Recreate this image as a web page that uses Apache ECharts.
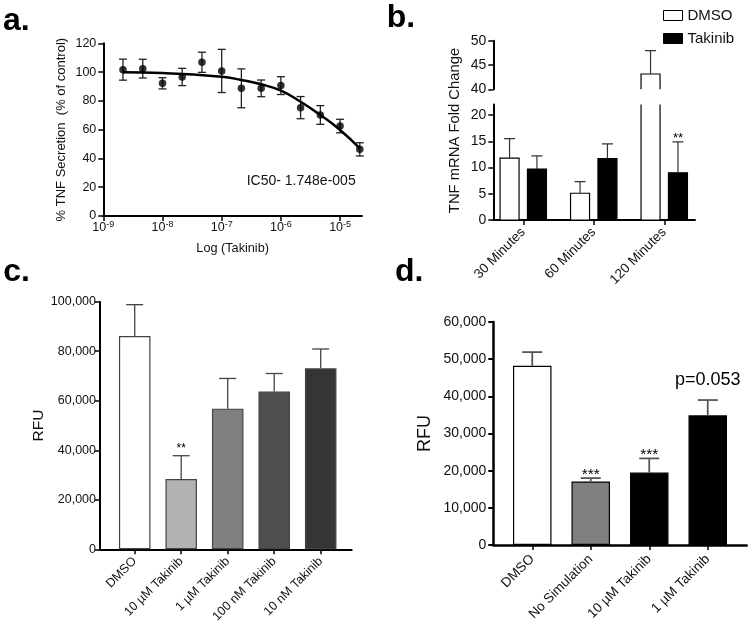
<!DOCTYPE html>
<html><head><meta charset="utf-8">
<script src="https://cdn.jsdelivr.net/npm/echarts@6/dist/echarts.min.js"></script>
<style>html,body{margin:0;padding:0;background:#fff}#c{width:750px;height:629px}</style>
</head><body><div id="c"></div>
<script>
// ---------- Panel a data ----------
const aConc = [2.15e-9, 4.64e-9, 1e-8, 2.15e-8, 4.64e-8, 1e-7, 2.15e-7, 4.64e-7, 1e-6, 2.15e-6, 4.64e-6, 1e-5, 2.15e-5];
const aMean = [101.7, 102.4, 92.2, 96.6, 106.8, 100.8, 88.7, 88.7, 90.6, 75.3, 70.2, 62.5, 46.3];
const aErr  = [7.3, 6.5, 3.9, 6.0, 7.0, 15.0, 13.5, 5.8, 6.2, 7.7, 6.5, 4.7, 4.6];
const aFitConc = [2.15e-9, 1e-8, 1e-7, 2.15e-7, 4.64e-7, 1e-6, 2.15e-6, 4.64e-6, 1e-5, 2.15e-5];
const aFitVal  = [99.8, 99.3, 96.8, 94.5, 91.5, 87.1, 79.4, 70.2, 59.8, 47.0];
const aXTickExp = [-9, -8, -7, -6, -5];
const aNote = 'IC50- 1.748e-005';

// ---------- Panel b data ----------
const bCats = ['30 Minutes', '60 Minutes', '120 Minutes'];
const bDmso = [11.8, 5.1, 43.15];
const bDmsoErr = [3.7, 2.2, 4.8];
const bTak = [9.7, 11.7, 9.0];
const bTakErr = [2.5, 2.8, 5.9];
const bTakSig = ['', '', '**'];

// ---------- Panel c data ----------
const cCats = ['DMSO', '10 µM Takinib', '1 µM Takinib', '100 nM Takinib', '10 nM Takinib'];
const cVals = [86100, 28400, 56800, 63700, 73100];
const cErr  = [12700, 9400, 12200, 7300, 7800];
const cSig  = ['', '**', '', '', ''];

// ---------- Panel d data ----------
const dCats = ['DMSO', 'No Simulation', '10 µM Takinib', '1 µM Takinib'];
const dVals = [48200, 17100, 19500, 34900];
const dErr  = [3700, 900, 3800, 4100];
const dSig  = ['', '***', '***', 'p=0.053'];

// ---------- styles ----------
const FONT = '"Liberation Sans", Arial, Helvetica, sans-serif';
const cFill = ['#ffffff', '#b2b2b2', '#808080', '#4e4e4e', '#353535'];
const dFill = ['#ffffff', '#808080', '#000000', '#000000'];
const B_BW = 19, B_OFF = 13.7;

const comma = v => String(v).replace(/\B(?=(\d{3})+(?!\d))/g, ',');

function errRender(o) {
  return function (params, api) {
    const x = api.value(0), v = api.value(1), e = api.value(2);
    const p0 = api.coord([x, v]);
    const pt = api.coord([x, v + e]);
    const pb = o.both ? api.coord([x, v - e]) : p0;
    const cx = p0[0] + (o.offset || 0);
    const h = o.capW / 2;
    const st = { stroke: o.color, lineWidth: o.lw };
    const ch = [
      { type: 'line', shape: { x1: cx, y1: pb[1], x2: cx, y2: pt[1] }, style: st },
      { type: 'line', shape: { x1: cx - h, y1: pt[1], x2: cx + h, y2: pt[1] }, style: st }
    ];
    if (o.both) ch.push({ type: 'line', shape: { x1: cx - h, y1: pb[1], x2: cx + h, y2: pb[1] }, style: st });
    const s = o.sig ? o.sig[params.dataIndex] : '';
    if (s) {
      const big = s.length > 3;
      ch.push({ type: 'text', x: cx, y: pt[1] - (big ? o.bigOff : o.sigOff),
        style: { text: s, fill: '#000', fontFamily: FONT, fontSize: big ? o.bigFs : o.sigFs,
          fontWeight: 'normal', align: 'center', verticalAlign: 'middle' } });
    }
    return { type: 'group', children: ch };
  };
}
function barRender(offset, fill, stroke) {
  return function (params, api) {
    const x = api.value(0), v = api.value(1);
    const p0 = api.coord([x, 0]), p1 = api.coord([x, v]);
    const cx = p1[0] + offset;
    return { type: 'rect', shape: { x: cx - B_BW / 2, y: p1[1], width: B_BW, height: p0[1] - p1[1] },
      style: { fill: fill, stroke: stroke, lineWidth: 1.2 } };
  };
}

const axLine = (lw) => ({ show: true, onZero: false, lineStyle: { color: '#000', width: lw } });
const tick = (lw) => ({ show: true, length: 5, lineStyle: { color: '#000', width: lw } });
const noSplit = { show: false };

const grid = [
  { left: 103.3, top: 43.3, width: 258.7, height: 172.7 },   // 0 a
  { left: 493.3, top: 40.7, width: 201.7, height: 48.6 },    // 1 b top frame
  { left: 488, top: 40.7, width: 211.5, height: 48.6 },      // 2 b top bars
  { left: 493.3, top: 104.5, width: 201.7, height: 115.5 },  // 3 b bottom frame
  { left: 488, top: 104.5, width: 211.5, height: 115.5 },    // 4 b bottom bars
  { left: 100, top: 301.7, width: 251.7, height: 247.6 },    // 5 c frame
  { left: 111.45, top: 301.7, width: 232.5, height: 247.6 }, // 6 c bars
  { left: 493.3, top: 322, width: 253.4, height: 223 },      // 7 d frame
  { left: 503, top: 322, width: 234, height: 223 }           // 8 d bars
];

const frameX = (g, lw, show) => ({ type: 'value', gridIndex: g, min: 0, max: 1, show: show,
  axisLine: axLine(lw), axisTick: { show: false }, axisLabel: { show: false }, splitLine: noSplit });
const barX = (g, cats, fs, margin, show) => ({ type: 'category', gridIndex: g, data: cats, show: show,
  axisLine: { show: false }, axisTick: Object.assign(tick(1.5), { alignWithLabel: true }),
  axisLabel: { rotate: 45, interval: 0, fontSize: fs, color: '#111', fontFamily: FONT, margin: margin },
  splitLine: noSplit });
const hidY = (g, min, max) => ({ type: 'value', gridIndex: g, min: min, max: max, show: false, splitLine: noSplit });

const xAxis = [
  { type: 'value', gridIndex: 0, min: -9, max: -4.63,
    axisLine: axLine(2), splitLine: noSplit,
    axisTick: Object.assign(tick(1.5), { customValues: aXTickExp }),
    axisLabel: { customValues: aXTickExp, margin: 4, color: '#111',
      formatter: v => '{b|10}{s|' + v + '}',
      rich: { b: { fontSize: 12.5, fontFamily: FONT, lineHeight: 16, color: '#111' },
              s: { fontSize: 9, fontFamily: FONT, lineHeight: 10, verticalAlign: 'top', color: '#111' } } },
    name: 'Log (Takinib)', nameLocation: 'middle', nameGap: 25.5,
    nameTextStyle: { fontSize: 12.7, fontFamily: FONT, color: '#111' } },
  frameX(1, 2, false),
  barX(2, bCats, 13.5, 10, false),
  frameX(3, 2, true),
  barX(4, bCats, 13.5, 10, true),
  frameX(5, 2, true),
  barX(6, cCats, 12.5, 10, true),
  frameX(7, 2.5, true),
  barX(8, dCats, 13.5, 12, true)
];

const yAxis = [
  { type: 'value', gridIndex: 0, min: 0, max: 120, interval: 20, axisLine: axLine(2), axisTick: tick(1.5),
    splitLine: noSplit, axisLabel: { fontSize: 12.5, fontFamily: FONT, color: '#111', margin: 7 },
    name: '% TNF Secretion  (% of control)', nameLocation: 'middle', nameGap: 35,
    nameTextStyle: { fontSize: 13, fontFamily: FONT, color: '#111' } },
  { type: 'value', gridIndex: 1, min: 40, max: 50, interval: 5, axisLine: axLine(2), axisTick: tick(1.5),
    splitLine: noSplit, axisLabel: { fontSize: 14, fontFamily: FONT, color: '#111', margin: 7 } },
  hidY(2, 40, 50),
  { type: 'value', gridIndex: 3, min: 0, max: 22, interval: 5, axisLine: axLine(2), axisTick: tick(1.5),
    splitLine: noSplit, axisLabel: { fontSize: 14, fontFamily: FONT, color: '#111', margin: 7, showMaxLabel: false } },
  hidY(4, 0, 22),
  { type: 'value', gridIndex: 5, min: 0, max: 100000, interval: 20000, axisLine: axLine(2), axisTick: tick(1.5),
    splitLine: noSplit, axisLabel: { fontSize: 12.5, fontFamily: FONT, color: '#111', margin: 4, formatter: comma },
    name: 'RFU', nameLocation: 'middle', nameGap: 51,
    nameTextStyle: { fontSize: 15.5, fontFamily: FONT, color: '#111' } },
  hidY(6, 0, 100000),
  { type: 'value', gridIndex: 7, min: 0, max: 60000, interval: 10000, axisLine: axLine(2.5), axisTick: tick(2),
    splitLine: noSplit, axisLabel: { fontSize: 14, fontFamily: FONT, color: '#111', margin: 7, formatter: comma },
    name: 'RFU', nameLocation: 'middle', nameGap: 59,
    nameTextStyle: { fontSize: 18, fontFamily: FONT, color: '#111' } },
  hidY(8, 0, 60000)
];

const series = [];
// panel a
series.push({ type: 'custom', xAxisIndex: 0, yAxisIndex: 0, z: 3,
  data: aConc.map((c, i) => [Math.log10(c), aMean[i], aErr[i]]),
  renderItem: errRender({ both: true, capW: 8, color: '#222', lw: 1.3 }) });
series.push({ type: 'line', xAxisIndex: 0, yAxisIndex: 0, z: 4, smooth: true, symbol: 'none',
  lineStyle: { color: '#000', width: 2.5 },
  data: aFitConc.map((c, i) => [Math.log10(c), aFitVal[i]]) });
series.push({ type: 'scatter', xAxisIndex: 0, yAxisIndex: 0, z: 5, symbolSize: 7.5,
  itemStyle: { color: '#000' },
  data: aConc.map((c, i) => [Math.log10(c), aMean[i]]) });

// panel b (two segments of a broken axis)
[[2, 2], [4, 4]].forEach(([xi, yi]) => {
  series.push({ type: 'custom', name: 'DMSO', xAxisIndex: xi, yAxisIndex: yi, clip: true, z: 2,
    itemStyle: { color: '#fff', borderColor: '#000', borderWidth: 1 },
    data: bDmso.map((v, i) => [i, v]), renderItem: barRender(-B_OFF, '#fff', '#000') });
  series.push({ type: 'custom', name: 'Takinib', xAxisIndex: xi, yAxisIndex: yi, clip: true, z: 2,
    itemStyle: { color: '#000' },
    data: bTak.map((v, i) => [i, v]), renderItem: barRender(B_OFF, '#000', '#000') });
  series.push({ type: 'custom', xAxisIndex: xi, yAxisIndex: yi, clip: true, z: 3,
    data: bDmso.map((v, i) => [i, v, bDmsoErr[i]]),
    renderItem: errRender({ capW: 11, color: '#333', lw: 1.2, offset: -B_OFF }) });
  series.push({ type: 'custom', xAxisIndex: xi, yAxisIndex: yi, clip: true, z: 3,
    data: bTak.map((v, i) => [i, v, bTakErr[i]]),
    renderItem: errRender({ capW: 11, color: '#333', lw: 1.2, offset: B_OFF,
      sig: xi === 4 ? bTakSig : null, sigOff: 3.5, sigFs: 13 }) });
});

// panel c
series.push({ type: 'bar', xAxisIndex: 6, yAxisIndex: 6, barWidth: 31.5, z: 2,
  itemStyle: { borderColor: '#444', borderWidth: 1.2 },
  data: cVals.map((v, i) => ({ value: v, itemStyle: { color: cFill[i] } })) });
series.push({ type: 'custom', xAxisIndex: 6, yAxisIndex: 6, z: 3,
  data: cVals.map((v, i) => [i, v, cErr[i]]),
  renderItem: errRender({ capW: 17, color: '#444', lw: 1.3, sig: cSig, sigOff: 6.8, sigFs: 12 }) });

// panel d
series.push({ type: 'bar', xAxisIndex: 8, yAxisIndex: 8, barWidth: 38.5, z: 2,
  itemStyle: { borderColor: '#000', borderWidth: 1.2 },
  data: dVals.map((v, i) => ({ value: v, itemStyle: { color: dFill[i] } })) });
series.push({ type: 'custom', xAxisIndex: 8, yAxisIndex: 8, z: 3,
  data: dVals.map((v, i) => [i, v, dErr[i]]),
  renderItem: errRender({ capW: 20, color: '#555', lw: 1.8, sig: dSig, sigOff: 3.5, sigFs: 15.5, bigOff: 20, bigFs: 18 }) });

const panelLabel = (t, x, y) => ({ type: 'text', x: x, y: y,
  style: { text: t, fill: '#000', fontFamily: FONT, fontWeight: 'bold', fontSize: 32, align: 'left', verticalAlign: 'middle' } });

const option = {
  animation: false,
  backgroundColor: '#fff',
  grid: grid,
  xAxis: xAxis,
  yAxis: yAxis,
  legend: {
    orient: 'vertical', left: 663, top: 8, padding: 0, itemWidth: 19, itemHeight: 10, itemGap: 8,
    icon: 'rect', selectedMode: false,
    textStyle: { fontSize: 15, color: '#111', fontFamily: FONT },
    data: [
      { name: 'DMSO', itemStyle: { color: '#fff', borderColor: '#000', borderWidth: 1 } },
      { name: 'Takinib', itemStyle: { color: '#000', borderColor: '#000', borderWidth: 1 } }
    ]
  },
  graphic: [
    panelLabel('a.', 3, 21.5),
    panelLabel('b.', 386.7, 18),
    panelLabel('c.', 3.3, 272.5),
    panelLabel('d.', 395, 272.5),
    { type: 'text', x: 246.7, y: 180.7,
      style: { text: aNote, fill: '#111', fontFamily: FONT, fontSize: 14, align: 'left', verticalAlign: 'middle' } },
    { type: 'text', x: 455, y: 130.5, rotation: Math.PI / 2,
      style: { text: 'TNF mRNA Fold Change', fill: '#111', fontFamily: FONT, fontSize: 14.8, align: 'center', verticalAlign: 'middle' } }
  ],
  series: series
};

const chart = echarts.init(document.getElementById('c'));
chart.setOption(option);
</script>
</body></html>
